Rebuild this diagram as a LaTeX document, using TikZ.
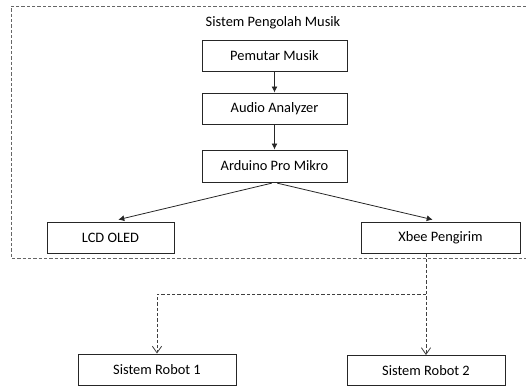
\documentclass[tikz,border=0pt]{standalone}
\usepackage{fontspec}
\setmainfont{Carlito}
\usetikzlibrary{arrows.meta}

\tikzset{
  box/.style={draw=black!85, line width=0.75pt, minimum height=23.25pt, inner sep=0pt,
    font=\fontsize{10.8}{12}\selectfont},
  flow/.style={-{Latex[length=4.5pt,width=4.5pt]}, line width=0.6pt, black!85, shorten <=2pt},
  radio/.style={-{Straight Barb[length=5pt,width=7pt]}, dashed, dash pattern=on 2.5pt off 1.5pt,
    line width=0.6pt, black!75},
}

\begin{document}
\begin{tikzpicture}[x=0.75pt,y=-0.75pt]
  \useasboundingbox (0,0) rectangle (526,386);

  % music processing system
  \draw[black!60, line width=0.6pt, dash pattern=on 2.5pt off 1.5pt]
    (526,6) -- (11,6) -- (11,258) -- (526,258);
  \node (title) at (273,23) {\fontsize{10.8}{12}\selectfont Sistem Pengolah Musik};

  \node[box, minimum width=108.75pt] (pemutar) at (274.5,55.5) {Pemutar Musik};
  \node[box, minimum width=108.75pt] (audio) at (274.5,108.5) {Audio Analyzer};
  \node[box, minimum width=108.75pt, minimum height=24pt] (arduino) at (274.5,166) {Arduino Pro Mikro};
  \node[box, minimum width=95.25pt] (lcd) at (110.5,237.5) {LCD OLED};
  \node[box, minimum width=119.25pt] (xbee) at (440.5,237.5) {Xbee Pengirim};

  % robots
  \node[box, minimum width=118.5pt] (robot1) at (157,369.5) {Sistem Robot 1};
  \node[box, minimum width=118.5pt, minimum height=22.5pt] (robot2) at (426,370.5) {Sistem Robot 2};
  \coordinate (branch) at (426,294);

  \draw[flow, shorten <=0pt] (pemutar) -- (audio);
  \draw[flow, shorten <=0pt] (audio) -- (arduino);
  \draw[flow, shorten >=6pt] (arduino.south) -- (lcd.north);
  \draw[flow, shorten >=6pt] (arduino.south) -- (xbee.north);
  \draw[radio] (xbee.south -| branch) -- (robot2.north);
  \draw[radio] (branch) -| (robot1.north);
\end{tikzpicture}
\end{document}
